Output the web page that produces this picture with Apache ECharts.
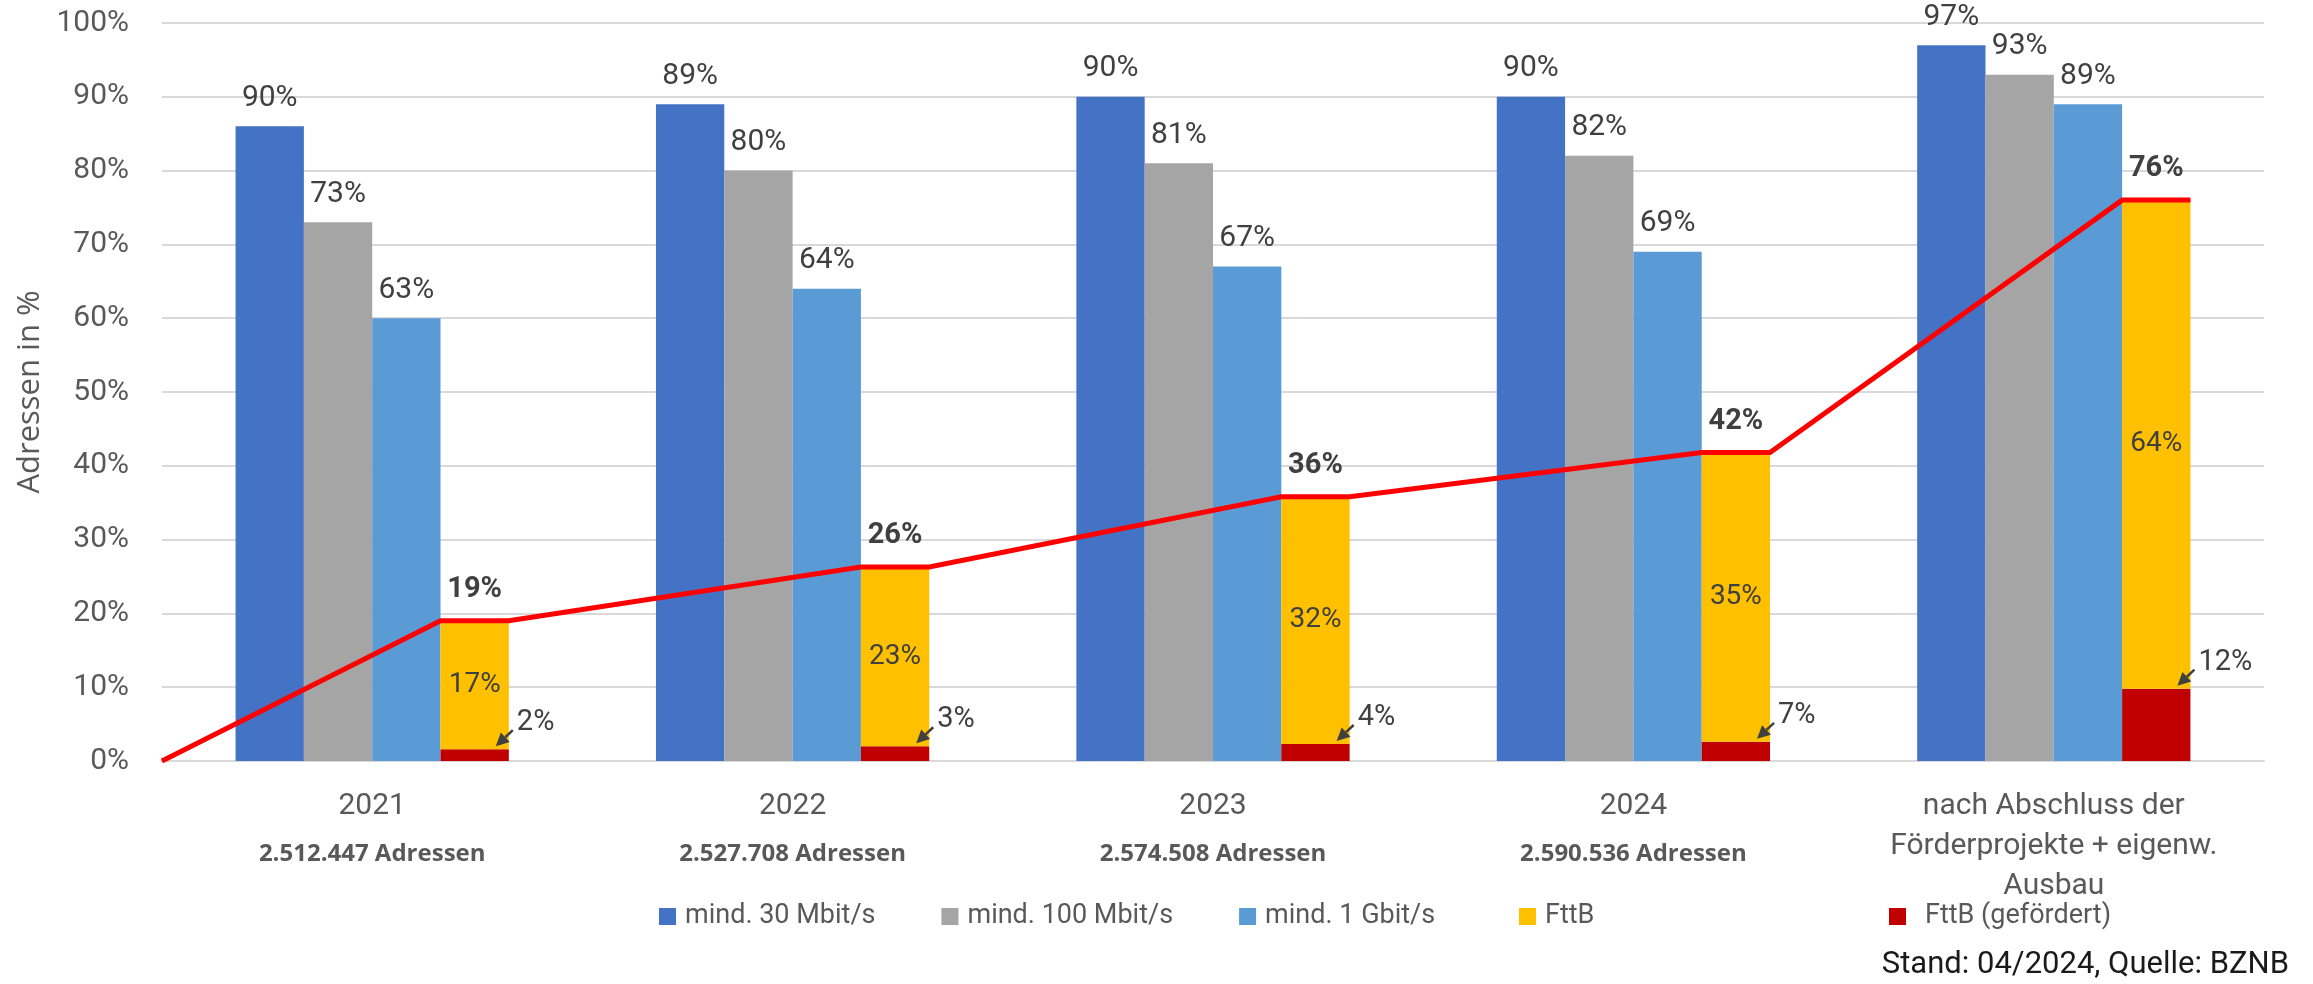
<!DOCTYPE html>
<html lang="de">
<head>
    <meta charset="UTF-8">
    <title>Breitbandversorgung Adressen</title>
    <script src="https://cdn.jsdelivr.net/npm/echarts@6/dist/echarts.min.js"></script>
    <style>
        html, body { margin: 0; padding: 0; background: #fff; }
        #chart { width: 2313px; height: 984px; }
    </style>
</head>
<body>
<div id="chart"></div>
<script>
    const categories = ['2021', '2022', '2023', '2024', 'nach Abschluss der\nFörderprojekte + eigenw.\nAusbau'];
    const addresses = ['2.512.447 Adressen', '2.527.708 Adressen', '2.574.508 Adressen', '2.590.536 Adressen', ''];

    // bar heights as drawn, and the texts printed on them
    const mbit30 = [86, 89, 90, 90, 97];
    const mbit30Labels = ['90%', '89%', '90%', '90%', '97%'];
    const mbit100 = [73, 80, 81, 82, 93];
    const mbit100Labels = ['73%', '80%', '81%', '82%', '93%'];
    const gbit1 = [60, 64, 67, 69, 89];
    const gbit1Labels = ['63%', '64%', '67%', '69%', '89%'];
    const fttbTotal = [19, 26.3, 35.8, 41.8, 76];
    const fttbTotalLabels = ['19%', '26%', '36%', '42%', '76%'];
    const fttbFunded = [1.6, 2.0, 2.3, 2.6, 9.8];
    const fttbFundedLabels = ['2%', '3%', '4%', '7%', '12%'];
    const fttbOwnLabels = ['17%', '23%', '32%', '35%', '64%'];
    const yTicks = [0, 10, 20, 30, 40, 50, 60, 70, 80, 90, 100];

    const fttbOwn = fttbTotal.map((v, i) => +(v - fttbFunded[i]).toFixed(2));

    const CAT_GAP = 0.35;   // barCategoryGap
    const NBARS = 4;
    const font = 'Roboto';
    const txt = '#404040';
    const axisTxt = '#595959';

    // yellow bar edges inside a category band (fractions of the band)
    const yl = CAT_GAP / 2 + 3 * (1 - CAT_GAP) / NBARS;
    const yr = CAT_GAP / 2 + 4 * (1 - CAT_GAP) / NBARS;
    const ym = (yl + yr) / 2;

    const lineData = [[0, 0]];
    fttbTotal.forEach((v, i) => {
        lineData.push([i + yl, v]);
        lineData.push({value: [i + ym, v], label: {show: true, formatter: fttbTotalLabels[i]}});
        lineData.push([i + yr, v]);
    });

    function topLabel(labels) {
        return {
            show: true, position: 'top', distance: 13,
            fontFamily: font, fontSize: 30, color: txt,
            formatter: p => labels[p.dataIndex]
        };
    }

    function legendAt(names, left, pad) {
        return {
            data: names, left: left, top: 903, padding: 0,
            icon: 'rect', itemWidth: 17, itemHeight: 17, itemGap: 66,
            textStyle: {fontFamily: font, fontSize: 27, color: axisTxt, padding: [0, 0, 0, pad]}
        };
    }

    const chart = echarts.init(document.getElementById('chart'));
    const option = {
        animation: false,
        grid: {left: 162, right: 49, top: 23, bottom: 223},
        title: {
            text: 'Stand: 04/2024, Quelle: BZNB',
            right: 24, top: 950, padding: 0,
            textStyle: {fontFamily: font, fontSize: 31, fontWeight: 'normal', color: '#1a1a1a'}
        },
        legend: [
            legendAt(['mind. 30 Mbit/s', 'mind. 100 Mbit/s', 'mind. 1 Gbit/s'], 659, 4),
            legendAt(['FttB'], 1519, 4),
            legendAt(['FttB (gefördert)'], 1889, 14)
        ],
        xAxis: [{
            type: 'category',
            data: categories,
            axisTick: {show: false},
            axisLine: {lineStyle: {color: '#D9D9D9', width: 2}},
            axisLabel: {
                interval: 0, margin: 25,
                formatter: (value, idx) => {
                    const lines = value.split('\n').map(l => '{y|' + l + '}');
                    if (addresses[idx]) lines.push('{a|' + addresses[idx] + '}');
                    return lines.join('\n');
                },
                rich: {
                    y: {fontFamily: font, fontSize: 30, color: axisTxt, lineHeight: 40},
                    a: {fontFamily: 'Open Sans', fontSize: 24, fontWeight: 'bold', color: axisTxt, lineHeight: 56}
                }
            }
        }, {
            type: 'value', min: 0, max: categories.length, show: false
        }],
        yAxis: {
            type: 'value', min: yTicks[0], max: yTicks[yTicks.length - 1], interval: yTicks[1] - yTicks[0],
            name: 'Adressen in %', nameLocation: 'middle', nameGap: 112,
            nameTextStyle: {fontFamily: 'Open Sans', fontSize: 31, color: axisTxt},
            axisLabel: {formatter: '{value}%', fontFamily: font, fontSize: 30, color: axisTxt, margin: 33},
            splitLine: {lineStyle: {color: '#D9D9D9', width: 2}},
            axisLine: {show: false}, axisTick: {show: false}
        },
        series: [{
            name: 'mind. 30 Mbit/s', type: 'bar', data: mbit30,
            barGap: '0%', barCategoryGap: (CAT_GAP * 100) + '%',
            itemStyle: {color: '#4472C4'}, label: topLabel(mbit30Labels)
        }, {
            name: 'mind. 100 Mbit/s', type: 'bar', data: mbit100,
            itemStyle: {color: '#A5A5A5'}, label: topLabel(mbit100Labels)
        }, {
            name: 'mind. 1 Gbit/s', type: 'bar', data: gbit1,
            itemStyle: {color: '#5B9BD5'}, label: topLabel(gbit1Labels)
        }, {
            name: 'FttB (gefördert)', type: 'bar', stack: 'fttb', data: fttbFunded,
            itemStyle: {color: '#C00000'}
        }, {
            name: 'FttB', type: 'bar', stack: 'fttb', data: fttbOwn,
            itemStyle: {color: '#FFC000'},
            label: {
                show: true, position: 'inside', fontFamily: font, fontSize: 28, color: txt,
                formatter: p => fttbOwnLabels[p.dataIndex]
            }
        }, {
            name: 'FttB gesamt', type: 'line', xAxisIndex: 1, data: lineData,
            symbol: 'circle', symbolSize: 1, z: 5,
            itemStyle: {color: '#FF0000'},
            lineStyle: {color: '#FF0000', width: 5, join: 'miter'},
            label: {
                show: false, position: 'top', distance: 16,
                fontFamily: font, fontSize: 29, fontWeight: 'bold', color: txt
            }
        }, {
            name: 'FttB gefördert Pfeil', type: 'custom', z: 6,
            data: fttbFunded.map((v, i) => [i, v]),
            renderItem: (params, api) => {
                const i = api.value(0);
                const p = api.coord([i, api.value(1)]);
                const band = api.size([1, 0])[0];
                const bw = band * (1 - CAT_GAP) / NBARS;
                const right = p[0] + 2 * bw;
                const top = p[1];
                const tail = [right + 4, top - 19];
                const tip = [right - 13, top - 3];
                const ang = Math.atan2(tip[1] - tail[1], tip[0] - tail[0]);
                const hl = 13, hw = 6.5;
                const bx = tip[0] - hl * Math.cos(ang), by = tip[1] - hl * Math.sin(ang);
                const nx = -Math.sin(ang) * hw, ny = Math.cos(ang) * hw;
                return {
                    type: 'group',
                    children: [{
                        type: 'line',
                        shape: {x1: tail[0], y1: tail[1], x2: bx, y2: by},
                        style: {stroke: txt, lineWidth: 2.5}
                    }, {
                        type: 'polygon',
                        shape: {points: [tip, [bx + nx, by + ny], [bx - nx, by - ny]]},
                        style: {fill: txt}
                    }, {
                        type: 'text', x: right + 8, y: top - 26,
                        style: {
                            text: fttbFundedLabels[i], fontFamily: font, fontSize: 29, fill: txt,
                            align: 'left', verticalAlign: 'middle'
                        }
                    }]
                };
            }
        }]
    };
    chart.setOption(option);
</script>
</body>
</html>
